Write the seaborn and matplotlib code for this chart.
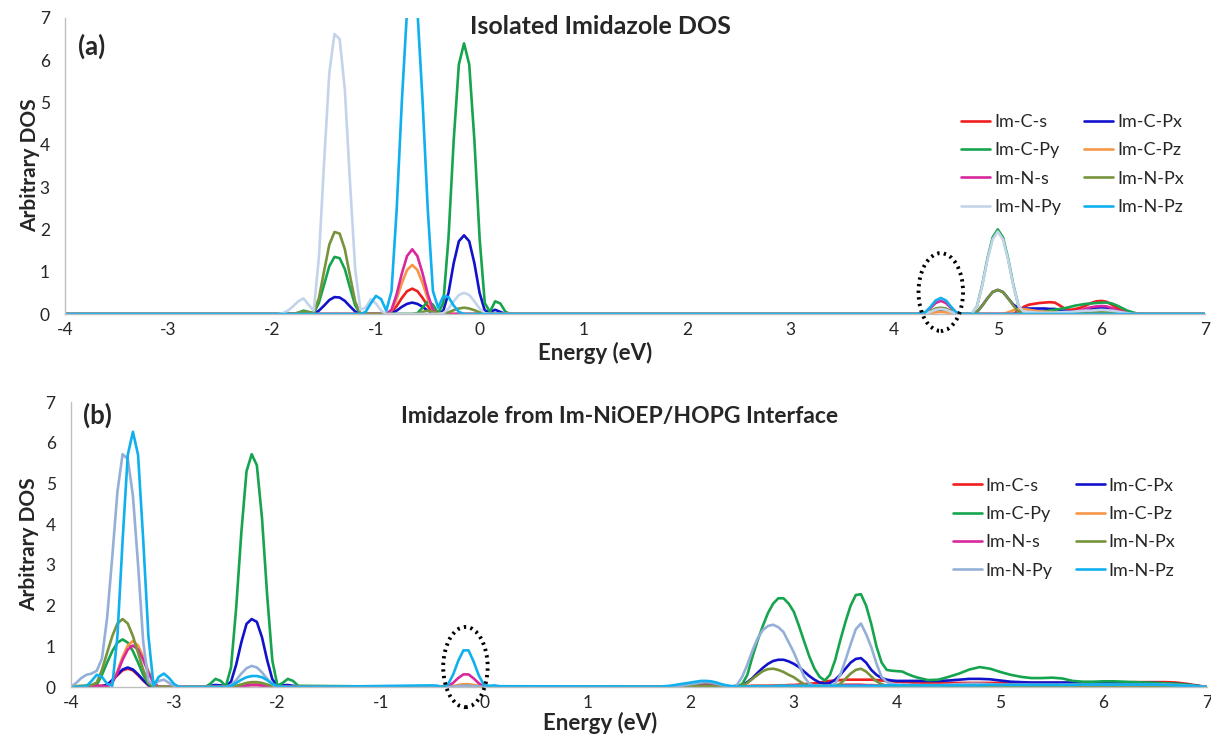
import numpy as np
import pandas as pd
import seaborn as sns
import matplotlib.pyplot as plt
from matplotlib.patches import Ellipse

# orbital projections (legend order)
orbitals = ['Im-C-s', 'Im-C-Px', 'Im-C-Py', 'Im-C-Pz', 'Im-N-s', 'Im-N-Px', 'Im-N-Py', 'Im-N-Pz']

# ---------------- panel (a): isolated imidazole ----------------
# energy grids (eV): -2.00..0.40 and 4.20..6.50 (step 0.05), flat zero elsewhere
a_grid1 = np.round(np.arange(-2.0, 0.401, 0.05), 2)
a_grid2 = np.round(np.arange(4.2, 6.501, 0.05), 2)

a_c_s = [0, 0, 0, 0, 0, 0, 0, 0, 0, 0,
         0, 0, 0, 0, 0, 0, 0, 0, 0, 0,
         0, 0, 0, .04, .19, .38, .54, .60, .54, .38,
         .19, .04, 0, 0, 0, 0, 0, 0, 0, 0,
         0, 0, 0, 0, 0, 0, 0, 0, 0,
         0, 0, .01, .04, .07, .08, .07, .04, .01, 0,
         0, 0, 0, 0, 0, 0, 0, 0, 0, 0,
         .08, .17, .22, .24, .26, .27, .28, .27, .20, .12,
         .10, .12, .15, .20, .26, .30, .31, .29, .22, .14,
         .08, .04, .02, .01, 0, 0, 0]
a_c_px = [0, 0, 0, 0, 0, 0, 0, 0, .01, .08,
          .20, .33, .40, .39, .31, .18, .06, 0, 0, 0,
          0, 0, 0, .02, .08, .17, .24, .27, .24, .17,
          .08, .02, 0, .08, .50, 1.20, 1.72, 1.86, 1.72, 1.20,
          .50, .08, .05, .10, .05, 0, 0, 0, 0,
          0, 0, .01, .04, .07, .08, .07, .04, .01, 0,
          0, 0, .05, .20, .37, .52, .57, .52, .37, .22,
          .14, .13, .13, .13, .13, .13, .12, .12, .10, .07,
          .05, .06, .08, .10, .12, .14, .15, .14, .11, .07,
          .04, .02, .01, 0, 0, 0, 0]
a_c_py = [0, 0, 0, 0, 0, .03, .08, .05, .02, .27,
          .70, 1.13, 1.35, 1.32, 1.06, .62, .20, .01, 0, 0,
          0, 0, 0, 0, 0, 0, 0, 0, .02, .15,
          .30, .22, .02, .26, 1.80, 4.10, 5.90, 6.40, 5.90, 4.10,
          1.80, .26, .05, .30, .25, .05, 0, 0, 0,
          0, 0, .01, .05, .10, .12, .10, .05, .01, 0,
          0, 0, .19, .69, 1.31, 1.81, 2.00, 1.81, 1.31, .69,
          .19, .02, .03, .04, .05, .06, .08, .10, .12, .14,
          .17, .20, .22, .24, .25, .26, .27, .27, .25, .20,
          .14, .08, .04, .01, 0, 0, 0]
a_c_pz = [0, 0, 0, 0, 0, 0, 0, 0, 0, 0,
          0, 0, 0, 0, 0, 0, 0, 0, 0, 0,
          0, 0, 0, .08, .36, .73, 1.04, 1.16, 1.04, .73,
          .36, .08, 0, 0, 0, 0, 0, 0, 0, 0,
          0, 0, 0, 0, 0, 0, 0, 0, 0,
          0, 0, 0, .02, .04, .05, .04, .02, 0, 0,
          0, 0, 0, 0, 0, 0, 0, 0, .04, .09,
          .12, .12, .10, .08, .06, .05, .05, .04, .04, .04,
          .04, .04, .05, .05, .06, .06, .06, .05, .04, .03,
          .02, .01, 0, 0, 0, 0, 0]
a_n_s = [0, 0, 0, 0, 0, 0, 0, 0, 0, 0,
         0, 0, 0, 0, 0, 0, 0, 0, 0, 0,
         0, 0, 0, .10, .47, .96, 1.37, 1.53, 1.37, .96,
         .47, .10, 0, 0, 0, 0, 0, 0, 0, 0,
         0, 0, 0, 0, 0, 0, 0, 0, 0,
         0, 0, .03, .14, .26, .31, .26, .14, .03, 0,
         0, 0, 0, 0, 0, 0, 0, 0, 0, 0,
         0, 0, 0, 0, 0, 0, 0, 0, 0, 0,
         .02, .05, .09, .13, .16, .18, .19, .18, .14, .09,
         .05, .02, 0, 0, 0, 0, 0]
a_n_px = [0, 0, 0, 0, 0, .03, .06, .04, .03, .38,
          1.02, 1.64, 1.94, 1.90, 1.53, .90, .29, .01, 0, 0,
          0, 0, 0, 0, 0, 0, 0, 0, 0, .05,
          .08, .05, .02, .02, .04, .09, .13, .15, .13, .09,
          .04, .01, 0, 0, 0, 0, 0, 0, 0,
          0, 0, .02, .07, .13, .15, .13, .07, .02, 0,
          0, 0, .05, .20, .37, .52, .57, .52, .37, .20,
          .05, .02, .02, .02, .02, .02, .02, .02, .03, .03,
          .03, .03, .04, .04, .05, .05, .06, .05, .04, .02,
          .01, 0, 0, 0, 0, 0, 0]
a_n_py = [0, 0, .02, .08, .18, .30, .37, .22, .08, 1.35,
          3.60, 5.70, 6.62, 6.50, 5.30, 3.10, 1.05, .10, .15, .35,
          .25, .08, 0, 0, 0, 0, 0, 0, 0, 0,
          0, 0, 0, .02, .13, .30, .45, .50, .45, .30,
          .13, .02, 0, 0, 0, 0, 0, 0, 0,
          0, 0, .01, .05, .10, .12, .10, .05, .01, 0,
          0, 0, .19, .67, 1.28, 1.76, 1.95, 1.76, 1.28, .67,
          .19, .05, .05, .04, .03, .03, .03, .03, .04, .05,
          .05, .06, .07, .08, .08, .09, .10, .09, .08, .06,
          .04, .02, 0, 0, 0, 0, 0]
a_n_pz = [0, 0, 0, 0, 0, 0, 0, 0, 0, 0,
          0, 0, 0, 0, 0, 0, 0, 0, .05, .25,
          .43, .35, .08, .54, 2.47, 5.03, 7.18, 8.00, 7.18, 5.03,
          2.47, .54, .15, .42, .40, .20, .05, 0, 0, 0,
          0, 0, 0, 0, 0, 0, 0, 0, 0,
          0, .01, .04, .17, .32, .38, .32, .17, .04, .01,
          0, 0, 0, 0, 0, 0, 0, 0, 0, 0,
          0, 0, 0, 0, 0, 0, 0, 0, 0, 0,
          0, 0, 0, 0, 0, 0, 0, 0, 0, 0,
          0, 0, 0, 0, 0, 0, 0]

# ---------------- panel (b): imidazole at the interface ----------------
b_grid1 = np.round(np.arange(-4.0, -1.799, 0.05), 2)
b_grid2 = np.round(np.arange(-0.5, 0.151, 0.05), 2)
b_grid3 = np.round(np.arange(1.7, 4.201, 0.05), 2)
b_grid4 = np.round(np.arange(4.3, 7.001, 0.1), 2)

b_c_s = [0, 0, 0, .01, .02, .03, .03, .05, .16, .29,
         .41, .45, .41, .29, .16, .04, 0, 0, 0, 0,
         0, 0, 0, 0, 0, 0, 0, 0, 0, 0,
         0, 0, .01, .02, .04, .05, .05, .04, .02, .01,
         0, 0, 0, 0, 0,
         0, 0, 0, 0, .01, .02, .03, .04, .03, .02, .01, 0, 0, 0,
         0, 0, .01, .02, .02, .03, .05, .07, .08, .08,
         .07, .05, .03, .02, .01, .01, .01, .02, .03, .03,
         .03, .03, .04, .04, .04, .05, .05, .06, .07, .08,
         .09, .11, .13, .15, .16, .17, .18, .18, .18, .18,
         .18, .18, .17, .16, .15, .14, .13, .12, .12, .11,
         .11,
         .10, .10, .10, .10, .10, .10, .10, .10, .10, .10,
         .10, .10, .10, .10, .10, .10, .10, .10, .11, .11,
         .12, .12, .12, .12, .11, .08, .04, 0]
b_c_px = [0, 0, 0, 0, 0, .01, .02, .05, .17, .31,
          .43, .48, .43, .31, .17, .05, .01, 0, 0, 0,
          0, 0, 0, 0, 0, 0, .01, .03, .05, .04,
          .02, .13, .55, 1.10, 1.55, 1.67, 1.60, 1.22, .66, .19,
          .03, .04, .05, .03, .01,
          0, 0, 0, 0, .01, .02, .02, .02, .02, .01, 0, 0, 0, 0,
          0, 0, 0, 0, 0, .01, .01, .02, .02, .03,
          .02, .02, .01, .01, 0, .01, .05, .12, .22, .35,
          .47, .57, .64, .67, .67, .63, .57, .49, .38, .27,
          .18, .11, .08, .10, .18, .30, .45, .60, .69, .71,
          .60, .42, .30, .22, .18, .16, .15, .15, .15, .15,
          .15,
          .15, .15, .16, .18, .20, .20, .19, .16, .13, .12,
          .11, .11, .11, .11, .11, .11, .10, .10, .10, .10,
          .10, .10, .10, .09, .08, .06, .03, 0]
b_c_py = [0, 0, 0, .01, .02, .05, .30, .60, .88, 1.09,
          1.17, 1.09, .88, .60, .30, .08, 0, 0, 0, 0,
          0, 0, 0, 0, 0, 0, 0, .08, .20, .15,
          .02, .48, 1.95, 3.80, 5.30, 5.72, 5.45, 4.15, 2.25, .65,
          .03, .10, .20, .15, .03,
          0, 0, 0, 0, 0, .01, .02, .02, .02, .01, 0, 0, 0, 0,
          0, 0, .01, .01, .02, .02, .03, .04, .04, .05,
          .04, .03, .02, .01, 0, .01, .07, .30, .75, 1.15,
          1.50, 1.82, 2.05, 2.18, 2.18, 2.05, 1.85, 1.50, 1.12, .75,
          .45, .25, .16, .30, .66, 1.15, 1.60, 2.00, 2.26, 2.28,
          2.00, 1.55, 1.00, .60, .42, .40, .39, .38, .32, .27,
          .23,
          .17, .18, .25, .33, .43, .49, .45, .37, .30, .25,
          .22, .22, .23, .21, .15, .13, .13, .14, .14, .13,
          .12, .11, .10, .09, .08, .06, .03, 0]
b_c_pz = [0, 0, 0, 0, 0, 0, 0, 0, .11, .39,
          .74, 1.02, 1.13, 1.02, .74, .39, .11, 0, 0, 0,
          0, 0, 0, 0, 0, 0, 0, 0, 0, 0,
          0, .01, .03, .06, .09, .10, .10, .08, .05, .02,
          0, 0, 0, 0, 0,
          0, 0, 0, 0, .02, .05, .07, .07, .05, .02, 0, 0, 0, 0,
          0, 0, 0, .01, .01, .01, .02, .02, .02, .02,
          .02, .02, .01, .01, .01, .01, .02, .02, .03, .03,
          .03, .03, .03, .03, .03, .03, .03, .03, .03, .03,
          .03, .03, .03, .03, .04, .05, .06, .06, .06, .06,
          .05, .05, .04, .04, .04, .04, .04, .04, .04, .04,
          .04,
          .04, .04, .04, .04, .04, .04, .04, .04, .04, .04,
          .04, .04, .04, .04, .04, .04, .04, .04, .04, .04,
          .04, .04, .04, .04, .03, .02, .01, 0]
b_n_s = [0, 0, 0, .01, .02, .03, .02, .01, .10, .35,
         .67, .92, 1.02, .92, .67, .35, .10, 0, 0, 0,
         0, 0, 0, 0, 0, 0, 0, 0, 0, 0,
         0, 0, .01, .02, .04, .05, .05, .04, .02, .01,
         0, 0, 0, 0, 0,
         0, 0, 0, .02, .10, .22, .31, .31, .21, .09, .01, 0, 0, 0,
         0, 0, 0, 0, .01, .01, .02, .02, .03, .03,
         .03, .02, .02, .01, .01, .01, .01, .01, .02, .02,
         .02, .02, .02, .02, .02, .02, .02, .02, .02, .02,
         .02, .02, .02, .03, .03, .04, .05, .05, .05, .05,
         .04, .04, .03, .03, .03, .03, .03, .03, .03, .03,
         .03,
         .03, .03, .03, .03, .03, .03, .03, .03, .03, .03,
         .03, .03, .03, .03, .03, .03, .03, .03, .03, .03,
         .03, .03, .03, .03, .03, .02, .01, 0]
b_n_px = [0, .02, .03, .04, .05, .11, .42, .84, 1.25, 1.56,
          1.67, 1.56, 1.25, .84, .42, .11, .02, 0, 0, 0,
          0, 0, 0, 0, 0, 0, 0, 0, 0, 0,
          0, .01, .03, .06, .10, .12, .12, .10, .06, .03,
          .01, 0, 0, 0, 0,
          0, 0, 0, 0, .01, .02, .03, .03, .02, .01, 0, 0, 0, 0,
          0, 0, 0, 0, .01, .01, .02, .02, .02, .02,
          .02, .01, .01, 0, 0, 0, .03, .10, .20, .30,
          .39, .44, .45, .42, .37, .30, .24, .15, .07, .02,
          0, 0, 0, 0, .02, .08, .20, .33, .42, .45,
          .38, .26, .14, .07, .03, .02, .02, .02, .02, .02,
          .02,
          .02, .02, .02, .02, .02, .02, .02, .02, .02, .02,
          .02, .02, .02, .02, .02, .02, .02, .02, .02, .02,
          .02, .02, .02, .02, .02, .01, .01, 0]
b_n_py = [0, .10, .22, .30, .33, .40, .70, 1.70, 3.20, 4.80,
          5.72, 5.60, 4.70, 3.00, 1.10, .15, .05, .15, .18, .10,
          .02, 0, 0, 0, 0, 0, 0, 0, 0, 0,
          0, .05, .17, .33, .46, .52, .48, .36, .20, .06,
          0, 0, 0, 0, 0,
          0, 0, 0, 0, .01, .02, .03, .03, .02, .01, 0, 0, 0, 0,
          0, 0, .01, .02, .03, .05, .07, .09, .11, .12,
          .11, .08, .05, .03, .02, .05, .25, .55, .90, 1.20,
          1.40, 1.50, 1.53, 1.47, 1.35, 1.10, .85, .55, .25, .08,
          .03, .02, .02, .03, .08, .30, .66, 1.05, 1.42, 1.56,
          1.30, .98, .58, .25, .12, .08, .06, .05, .05, .05,
          .05,
          .05, .05, .06, .07, .08, .08, .07, .06, .06, .06,
          .06, .06, .06, .06, .06, .06, .06, .06, .06, .06,
          .06, .06, .06, .06, .05, .04, .02, 0]
b_n_pz = [0, 0, .01, .02, .15, .30, .25, .08, .03, 1.25,
          3.60, 5.70, 6.27, 5.70, 3.60, 1.25, .03, .25, .33, .22,
          .07, 0, 0, 0, 0, 0, 0, 0, 0, 0,
          0, .03, .10, .18, .24, .27, .27, .24, .17, .08,
          .02, 0, 0, 0, 0,
          .04, .03, 0, .06, .30, .64, .90, .90, .62, .28, .05, .03, .04, .02,
          .01, .02, .03, .05, .07, .09, .11, .13, .15, .15,
          .14, .11, .07, .04, .02, .01, .01, .01, .02, .02,
          .02, .02, .02, .03, .03, .03, .03, .03, .03, .03,
          .03, .03, .03, .03, .03, .03, .03, .03, .03, .03,
          .03, .03, .03, .03, .04, .04, .04, .04, .04, .04,
          .04,
          .04, .04, .04, .04, .04, .04, .05, .05, .05, .05,
          .05, .05, .05, .05, .05, .06, .06, .06, .06, .06,
          .06, .06, .06, .05, .04, .03, .02, 0]

# dotted circles (centre energy, centre DOS, width eV, height DOS)
circle_a = (4.45, 0.52, 0.43, 1.84)
circle_b = (-0.18, 0.49, 0.43, 1.97)

colors_a = ['#F01E1E', '#1212CC', '#16A44E', '#F79646', '#D8289C', '#77933C', '#C3D4EA', '#10B0EE']
colors_b = ['#F01E1E', '#1212CC', '#16A44E', '#F79646', '#D8289C', '#77933C', '#95B0D8', '#10B0EE']


def build(energy, values):
    frames = []
    for name, vals in zip(orbitals, values):
        frames.append(pd.DataFrame({'Energy': energy, 'DOS': vals, 'Orbital': name}))
    return pd.concat(frames, ignore_index=True)


a_energy = np.concatenate([[-4.0], a_grid1, a_grid2, [7.0]])
b_energy = np.concatenate([b_grid1, b_grid2, b_grid3, b_grid4])
a_vals = [[0] + v + [0] for v in [a_c_s, a_c_px, a_c_py, a_c_pz, a_n_s, a_n_px, a_n_py, a_n_pz]]
b_vals = [b_c_s, b_c_px, b_c_py, b_c_pz, b_n_s, b_n_px, b_n_py, b_n_pz]
df_a = build(a_energy, a_vals)
df_b = build(b_energy, b_vals)

sns.set_style('white')
plt.rcParams['font.family'] = ['Lato', 'DejaVu Sans']
plt.rcParams['axes.unicode_minus'] = False

fig = plt.figure(figsize=(12.11, 7.42), dpi=100)
ax_a = fig.add_axes([0.0537, 0.5768, 0.9414, 0.399])
ax_b = fig.add_axes([0.0586, 0.0741, 0.938, 0.384])

panels = [
    (ax_a, df_a, colors_a, circle_a, '(a)', 'Isolated Imidazole DOS', 18.0, 0.905, 0.972, 0.47, (0.78, 0.70)),
    (ax_b, df_b, colors_b, circle_b, '(b)', 'Imidazole from Im-NiOEP/HOPG Interface', 16.5, 0.955, 0.95, 0.483, (0.77, 0.76)),
]

for ax, df, cols, circ, tag, title, tsize, tag_y, title_y, title_x, leg_pos in panels:
    sns.lineplot(data=df, x='Energy', y='DOS', hue='Orbital', hue_order=orbitals,
                 palette=cols, linewidth=1.9, sort=False, estimator=None, ax=ax)
    ax.set_xlim(-4, 7)
    ax.set_ylim(0, 7)
    ax.set_xticks(range(-4, 8))
    ax.set_yticks(range(0, 8))
    ax.tick_params(length=0, labelsize=12.5, labelcolor='#262626')
    ax.tick_params(axis='y', pad=11)
    ax.tick_params(axis='x', pad=6)
    for side in ['top', 'right']:
        ax.spines[side].set_visible(False)
    for side in ['left', 'bottom']:
        ax.spines[side].set_color('#BFBFBF')
        ax.spines[side].set_linewidth(1.0)

    ax.set_xlabel('Energy (eV)', fontsize=16, fontweight='bold')
    ax.set_ylabel('Arbitrary DOS', fontsize=15, fontweight='bold')
    ax.text(0.011, tag_y, tag, transform=ax.transAxes, fontsize=18.5, fontweight='bold',
            ha='left', va='center')
    ax.text(title_x, title_y, title, transform=ax.transAxes, fontsize=tsize, fontweight='bold',
            ha='center', va='center')

    ell = Ellipse((circ[0], circ[1]), circ[2], circ[3], fill=False, edgecolor='black',
                  linestyle=(0, (0.6, 1.1)), linewidth=2.8, clip_on=False, zorder=5)
    ax.add_patch(ell)

    handles, labels = ax.get_legend_handles_labels()
    order = [0, 2, 4, 6, 1, 3, 5, 7]
    ax.legend([handles[i] for i in order], [labels[i] for i in order], ncol=2,
              loc='upper left', bbox_to_anchor=leg_pos, frameon=False, fontsize=13,
              handlelength=1.6, handletextpad=0.2, columnspacing=1.3, labelspacing=0.68,
              borderaxespad=0)

ax_a.xaxis.set_label_coords(0.465, -0.095)
ax_a.yaxis.set_label_coords(-0.022, 0.503)
ax_b.xaxis.set_label_coords(0.466, -0.088)
ax_b.yaxis.set_label_coords(-0.028, 0.502)

plt.savefig('out.png', dpi=100)
